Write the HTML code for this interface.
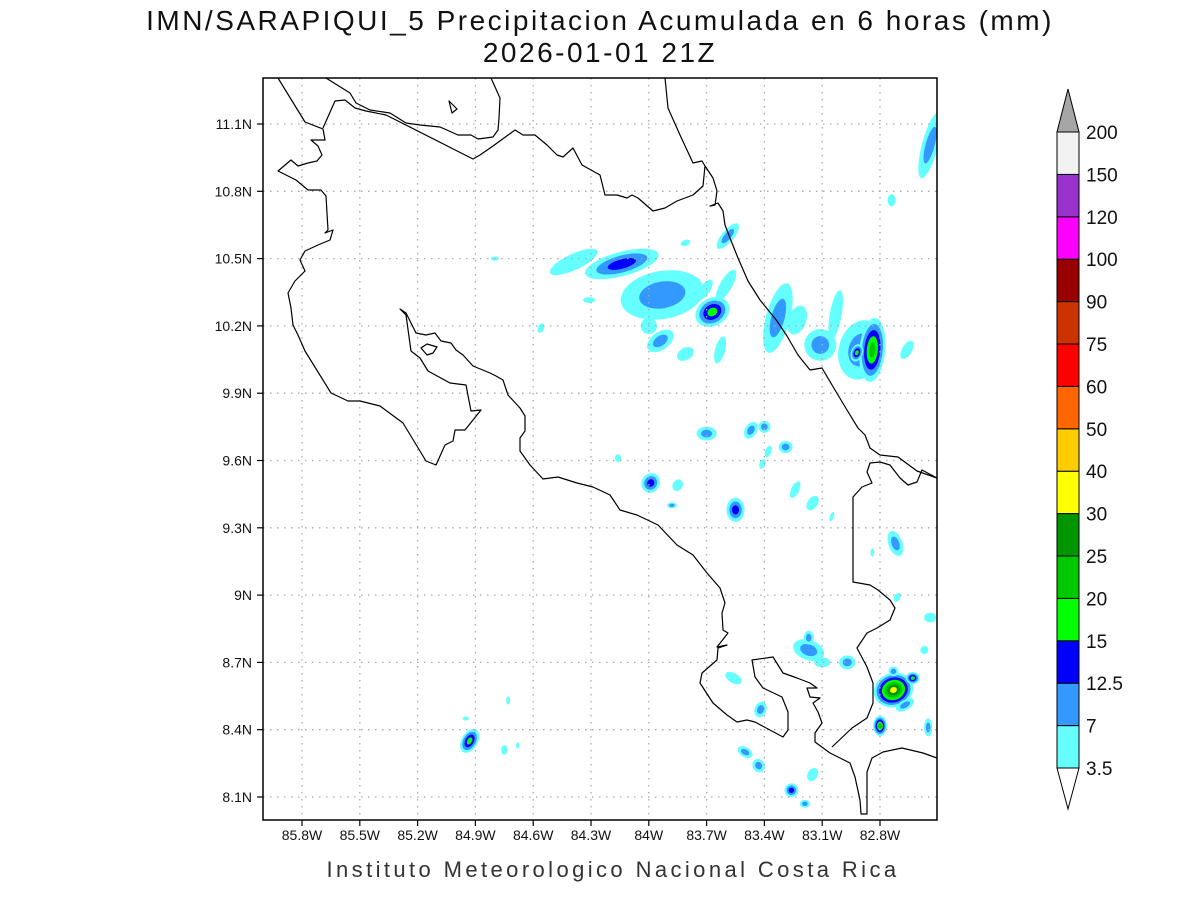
<!DOCTYPE html>
<html><head><meta charset="utf-8"><style>
html,body{margin:0;padding:0;background:#fff;}
svg{display:block;}
text{font-family:"Liberation Sans","DejaVu Sans",sans-serif;}
</style></head><body>
<svg id="chart" width="1200" height="900" viewBox="0 0 1200 900" xmlns="http://www.w3.org/2000/svg">
<rect x="0" y="0" width="1200" height="900" fill="#fff"/>
<text x="600" y="30" text-anchor="middle" font-size="28" fill="#111" letter-spacing="2.5">IMN/SARAPIQUI_5 Precipitacion Acumulada en 6 horas (mm)</text>
<text x="600" y="62" text-anchor="middle" font-size="28" fill="#111" letter-spacing="2.5">2026-01-01 21Z</text>
<defs><clipPath id="mapclip"><rect x="263" y="78" width="674" height="742"/></clipPath></defs>
<g id="blobs" clip-path="url(#mapclip)"></g>
<g id="grid"></g>
<g id="coast" clip-path="url(#mapclip)" fill="none" stroke="#000" stroke-width="1.2" stroke-linejoin="round">
<polyline points="278,78 305,122 323,129 325,140 311,140 318,146 322,155 317,161 308,163 298,166 291,160 278,171 296,180 308,190 321,190 326,196 328,230 325,233 333,230 330,240 318,245 305,251 300,260 305,271 295,281 288,293 291,308 293,325 298,335 305,351 331,393 348,401 360,401 380,406 403,423 426,461 436,465 445,445 453,441 455,430 465,430 481,410 471,411 466,385 450,383 428,371 420,358 411,351 406,315 400,309 406,313 416,333 426,335 435,333 441,341 451,343 456,350 463,355 473,366 490,373 496,376 503,380 508,395 520,408 525,416 525,431 520,438 520,451 530,465 543,479 558,477 577,483 593,487 610,495 620,510 637,515 658,525 677,545 693,555 707,573 720,588 725,603 722,613 723,630 728,633 717,647 727,645 718,648 717,660 702,673 700,683 713,703 727,715 737,722 747,720 755,722 783,737 788,730 788,712 782,697 763,688 755,677 752,660 773,657 783,673 797,678 810,683 817,688 807,688 810,697 820,698 813,703 818,712 822,723 815,733 815,742 830,753 840,758 850,763 855,777 860,800 861,814 867,814 867,772 872,758 883,752 902,748 923,753 937,758"/>
<polyline points="832,747 852,728 867,718 873,703 873,683 867,667 857,648 867,633 877,628 890,620 895,608 890,600 878,590 870,585 853,582 853,497 862,487 872,483 867,472 870,463 880,462 890,465 900,478 908,485 917,482 922,470 937,478"/>
<polyline points="665,78 668,108 680,135 693,163 702,161 705,166 713,178 717,191 715,205 710,206 718,203 723,211 725,225 730,238 738,258 748,281 760,300 777,321 787,336 798,355 810,370 822,368 832,385 847,410 858,428 865,435 870,448 880,455 898,457 917,471 937,478"/>
<polyline points="323,128 335,101 345,100 355,108 366,111 386,115 396,120 473,159 480,155 493,146 515,130 523,135 535,135 547,145 557,155 563,157 573,148 582,165 600,175 605,195 617,195 627,198 632,195 638,198 653,211 665,208 677,201 693,195 703,186 705,166"/>
<polyline points="326,78 350,93 356,103 370,110 390,113 406,123 420,125 440,127 458,135 471,135 478,139 493,137 498,130 499,118 500,98 491,78"/>
<polygon points="449,101 452,113 457,109"/>
<polygon points="421,348 427,344 437,347 433,353 427,355"/>
</g>
<rect x="263" y="78" width="674" height="742" fill="none" stroke="#000" stroke-width="1.5"/>
<g id="axes"></g>
<g id="cbar"></g>
<text x="613" y="877" text-anchor="middle" font-size="22" fill="#333" letter-spacing="3.4">Instituto Meteorologico Nacional Costa Rica</text>
</svg>
<script>
// ---- data ----
const lonTicks = [85.8,85.5,85.2,84.9,84.6,84.3,84.0,83.7,83.4,83.1,82.8];
const latTicks = [8.1,8.4,8.7,9.0,9.3,9.6,9.9,10.2,10.5,10.8,11.1];
const levelLabels = ["3.5","7","12.5","15","20","25","30","40","50","60","75","90","100","120","150","200"];
const levelColors = ["#66ffff","#3399ff","#0000ff","#00ff00","#00c800","#009600","#ffff00","#ffcc00","#ff6600","#ff0000","#cc3300","#990000","#ff00ff","#9933cc","#f2f2f2"];
// precipitation cells: centre lon (W), lat (N), semi-axes (deg), tilt (deg), highest level index
const cellLon = [84.39,84.14,83.93,83.67,83.59,83.81,83.94,83.81,83.63,83.33,83.23,83.11,83.03,82.90,82.84,82.92,82.66,82.54,82.74,84.31,84.56,84.80,83.70,83.47,83.40,83.29,83.38,83.41,83.99,83.85,83.88,83.55,84.16,83.24,83.15,83.05,82.72,82.84,82.71,82.54,82.57,83.17,83.17,83.10,82.97,82.73,82.63,82.73,82.80,82.55,82.67,83.56,83.42,83.50,83.43,83.26,83.19,83.15,84.93,84.95,84.73,84.75,84.68,83.60,83.71,84.00];
const cellLat = [10.485,10.476,10.338,10.262,10.60,10.57,10.133,10.075,10.093,10.235,10.226,10.115,10.25,10.093,10.093,10.08,10.093,11.006,10.76,10.315,10.19,10.50,9.72,9.735,9.75,9.66,9.64,9.585,9.50,9.49,9.40,9.38,9.61,9.47,9.41,9.35,9.23,9.19,8.99,8.90,8.755,8.755,8.81,8.70,8.70,8.577,8.63,8.66,8.417,8.41,8.51,8.63,8.49,8.30,8.24,8.13,8.07,8.20,8.35,8.45,8.53,8.31,8.33,10.38,10.36,10.20];
const cellRx = [0.135,0.197,0.218,0.093,0.031,0.026,0.078,0.047,0.026,0.062,0.047,0.083,0.031,0.114,0.067,0.031,0.026,0.042,0.021,0.031,0.016,0.021,0.052,0.031,0.031,0.036,0.016,0.016,0.047,0.026,0.026,0.047,0.016,0.021,0.026,0.010,0.036,0.010,0.016,0.031,0.021,0.083,0.026,0.042,0.042,0.104,0.036,0.026,0.036,0.021,0.052,0.047,0.031,0.042,0.031,0.036,0.026,0.026,0.042,0.016,0.010,0.016,0.010,0.031,0.026,0.042];
const cellRy = [0.036,0.054,0.107,0.062,0.071,0.013,0.040,0.027,0.062,0.160,0.067,0.071,0.111,0.134,0.143,0.040,0.045,0.152,0.027,0.013,0.022,0.009,0.031,0.040,0.027,0.027,0.027,0.022,0.045,0.027,0.013,0.054,0.018,0.040,0.036,0.022,0.058,0.018,0.022,0.022,0.018,0.045,0.031,0.022,0.031,0.076,0.027,0.022,0.045,0.040,0.022,0.022,0.036,0.022,0.031,0.031,0.018,0.031,0.058,0.009,0.018,0.022,0.013,0.080,0.054,0.036];
const cellTilt = [-25,-15,-10,-30,40,-20,-35,-30,15,15,20,0,10,15,5,20,30,15,0,0,20,0,0,30,0,0,20,20,30,30,0,0,0,25,35,20,-20,0,30,0,0,20,0,0,0,-20,0,0,0,0,-30,30,20,30,-30,0,0,30,30,0,0,0,0,30,35,0];
const cellMax = [0,2,1,3,1,0,1,0,0,1,0,1,0,1,4,3,0,1,0,0,0,0,1,1,1,1,0,0,2,0,1,2,0,0,0,0,1,0,0,0,0,1,1,0,1,6,3,1,4,1,1,0,1,1,1,2,1,0,3,0,0,0,0,0,0,0];

// ---- axis functions ----
function xOf(lon){ return 302 + (85.8 - lon) / 0.3 * 57.8; }
function yOf(lat){ return 124 + (11.1 - lat) / 0.3 * 67.3; }
const NS = "http://www.w3.org/2000/svg";
function mk(tag, attrs, parent){ const e = document.createElementNS(NS, tag); for (const k in attrs) e.setAttribute(k, attrs[k]); parent.appendChild(e); return e; }

// blobs
const gB = document.getElementById('blobs');
for (let i = 0; i < cellLon.length; i++) {
  const cx = xOf(cellLon[i]), cy = yOf(cellLat[i]);
  const rx = cellRx[i] * 57.8 / 0.3, ry = cellRy[i] * 67.3 / 0.3;
  const m = cellMax[i];
  for (let k = 0; k <= m; k++) {
    const s = 1 - k / (m + 1.25);
    const el = mk('ellipse', {cx: cx, cy: cy, rx: Math.max(rx * s, 1.2), ry: Math.max(ry * s, 1.2), fill: levelColors[k], transform: 'rotate(' + cellTilt[i] + ' ' + cx + ' ' + cy + ')'}, gB);
    
    
  }
}

// grid + ticks
const gG = document.getElementById('grid');
const gA = document.getElementById('axes');
lonTicks.forEach(function(lon){
  const x = xOf(lon);
  const l = mk('line', {x1: x, y1: 78, x2: x, y2: 820, stroke: '#aaa', 'stroke-width': 1.3, 'stroke-dasharray': '1.5 5.5'}, gG);
  
  
  const t = mk('line', {x1: x, y1: 820, x2: x, y2: 826, stroke: '#000', 'stroke-width': 1.2}, gA);
  
  
  const tx = mk('text', {x: x, y: 840, 'text-anchor': 'middle', 'font-size': 14, fill: '#111'}, gA);
  tx.textContent = lon.toFixed(1).replace(/\.0$/, '') + 'W';
  
  
});
latTicks.forEach(function(lat){
  const y = yOf(lat);
  const l = mk('line', {x1: 263, y1: y, x2: 937, y2: y, stroke: '#aaa', 'stroke-width': 1.3, 'stroke-dasharray': '1.5 5.5'}, gG);
  
  
  const t = mk('line', {x1: 257, y1: y, x2: 263, y2: y, stroke: '#000', 'stroke-width': 1.2}, gA);
  
  
  const tx = mk('text', {x: 252, y: y + 5, 'text-anchor': 'end', 'font-size': 14, fill: '#111'}, gA);
  tx.textContent = lat.toFixed(1).replace(/\.0$/, '') + 'N';
  
  
});

// colorbar
const gC = document.getElementById('cbar');
const cbX = 1057, cbW = 22, cbTop = 132, cbBot = 768;
const boxH = (cbBot - cbTop) / levelColors.length;
levelColors.forEach(function(c, k){
  const y = cbBot - (k + 1) * boxH;
  const r = mk('rect', {x: cbX, y: y, width: cbW, height: boxH, fill: c, stroke: '#000', 'stroke-width': 1}, gC);
  
  
});
const topArrow = mk('polygon', {points: cbX + ',' + cbTop + ' ' + (cbX + cbW) + ',' + cbTop + ' ' + (cbX + cbW / 2) + ',89', fill: '#a6a6a6', stroke: '#000', 'stroke-width': 1}, gC);


const botArrow = mk('polygon', {points: cbX + ',' + cbBot + ' ' + (cbX + cbW) + ',' + cbBot + ' ' + (cbX + cbW / 2) + ',809', fill: '#fff', stroke: '#000', 'stroke-width': 1}, gC);


levelLabels.forEach(function(lab, k){
  const y = cbBot - k * boxH;
  const t = mk('text', {x: 1086, y: y + 7, 'font-size': 19, fill: '#111'}, gC);
  t.textContent = lab;
  
  
});
</script>
</body></html>
